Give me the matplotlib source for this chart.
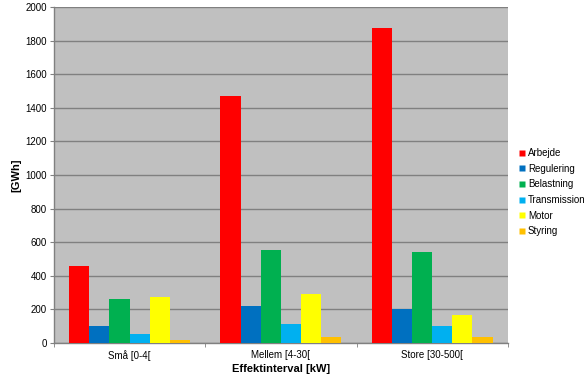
import matplotlib
matplotlib.use("Agg")
import matplotlib.pyplot as plt
import numpy as np
from matplotlib.lines import Line2D

plt.rcParams["font.family"] = ["Liberation Sans", "DejaVu Sans"]

categories = ["Små [0-4[", "Mellem [4-30[", "Store [30-500["]
series_names = ["Arbejde", "Regulering", "Belastning", "Transmission", "Motor", "Styring"]
series_colors = ["#FF0000", "#0070C0", "#00B050", "#00B0F0", "#FFFF00", "#FFC000"]

arbejde = [458, 1472, 1875]
regulering = [101, 220, 200]
belastning = [262, 553, 542]
transmission = [55, 113, 103]
motor = [274, 294, 168]
styring = [20, 36, 36]
values = [arbejde, regulering, belastning, transmission, motor, styring]

fig = plt.figure(figsize=(5.87, 3.79), dpi=100)
ax = fig.add_axes([0.092, 0.095, 0.773, 0.8865])
ax.set_facecolor("#C0C0C0")

x = np.arange(len(categories))
n = len(values)
width = 1.0 / (n + 1.5)
for i, (vals, color) in enumerate(zip(values, series_colors)):
    offset = (i - (n - 1) / 2) * width
    ax.bar(x + offset, vals, width=width, color=color, linewidth=0, zorder=3)

ax.set_xlim(-0.5, len(categories) - 0.5)
ax.set_ylim(0, 2000)
ax.set_yticks(np.arange(0, 2001, 200))
ax.tick_params(axis="y", labelsize=7, length=3, color="#808080", pad=2)
ax.set_xticks(x)
ax.set_xticklabels(categories, fontsize=7)
ax.tick_params(axis="x", length=0, pad=5)
ax.set_xticks(np.arange(-0.5, len(categories)), minor=True)
ax.tick_params(axis="x", which="minor", length=3, color="#808080")
ax.yaxis.grid(True, color="#808080", linewidth=1.0, zorder=1)
ax.set_axisbelow(True)

for side in ["top", "right"]:
    ax.spines[side].set_visible(False)
for side in ["left", "bottom"]:
    ax.spines[side].set_color("#808080")
    ax.spines[side].set_linewidth(1.0)

ax.set_ylabel("[GWh]", fontsize=8, fontweight="bold", labelpad=3)
ax.set_xlabel("Effektinterval [kW]", fontsize=8, fontweight="bold", labelpad=2)

handles = [
    Line2D([0], [0], marker="s", color="none", markerfacecolor=c,
           markeredgecolor="none", markersize=4.5, label=name)
    for name, c in zip(series_names, series_colors)
]
fig.legend(
    handles=handles,
    loc="center left",
    bbox_to_anchor=(0.878, 0.493),
    frameon=False,
    fontsize=7,
    handlelength=0.6,
    handletextpad=0.3,
    labelspacing=0.58,
    borderaxespad=0,
)

fig.savefig("out.png", dpi=100)
